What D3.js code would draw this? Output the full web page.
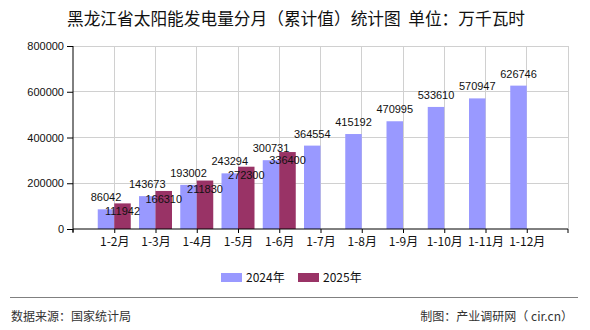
<!DOCTYPE html>
<html><head><meta charset="utf-8">
<script src="https://cdn.jsdelivr.net/npm/d3@7/dist/d3.min.js"></script>
<style>
body{margin:0;background:#fff;}
svg{display:block;}
text{font-family:"Liberation Sans","Noto Sans CJK SC",sans-serif;}
.cjk{font-family:"Noto Sans CJK SC","Liberation Sans",sans-serif;}
</style></head>
<body>
<svg id="c" width="590" height="330"></svg>
<script>
const categories = ["1-2月","1-3月","1-4月","1-5月","1-6月","1-7月","1-8月","1-9月","1-10月","1-11月","1-12月"];
const values2024 = [86042,143673,193002,243294,300731,364554,415192,470995,533610,570947,626746];
const values2025 = [111942,166310,211830,272300,336400];
const seriesNames = ["2024年","2025年"];
const yTicks = [0,200000,400000,600000,800000];
const colors = ["#9999ff","#993366"];

(function(){
const svg = d3.select("#c");
const pL = 73, pR = 568, pT = 46, pB = 229;
const x = d3.scalePoint().domain(categories).range([pL, pR]).padding(1);
const y = d3.scaleLinear().domain([0, 800000]).range([pB, pT]);
const bw = 16.5;

// title
svg.append("text").attr("class","cjk").attr("x",296).attr("y",25)
  .attr("text-anchor","middle").attr("font-size",16.7).attr("fill","#111")
  .attr("xml:space","preserve")
  .text("黑龙江省太阳能发电量分月（累计值）统计图  单位：万千瓦时");

// grid
const g = svg.append("g");
g.selectAll(".hg").data(yTicks.slice(1)).join("line")
  .attr("x1",pL).attr("x2",pR).attr("y1",d=>y(d)).attr("y2",d=>y(d))
  .attr("stroke","#d0d0d0").attr("stroke-width",1).attr("shape-rendering","crispEdges");
g.selectAll(".vg").data(categories).join("line")
  .attr("x1",d=>x(d)).attr("x2",d=>x(d)).attr("y1",pT).attr("y2",pB)
  .attr("stroke","#d0d0d0").attr("stroke-width",1).attr("shape-rendering","crispEdges");
g.append("line").attr("x1",pR).attr("x2",pR).attr("y1",pT).attr("y2",pB)
  .attr("stroke","#d0d0d0").attr("shape-rendering","crispEdges");

// bars
const bars = svg.append("g");
bars.selectAll(".b1").data(values2024).join("rect")
  .attr("x",(d,i)=>x(categories[i])-bw).attr("width",bw)
  .attr("y",d=>y(d)).attr("height",d=>y(0)-y(d)).attr("fill",colors[0]);
bars.selectAll(".b2").data(values2025).join("rect")
  .attr("x",(d,i)=>x(categories[i])).attr("width",bw)
  .attr("y",d=>y(d)).attr("height",d=>y(0)-y(d)).attr("fill",colors[1]);

// axes
const yAxis = d3.axisLeft(y).tickValues(yTicks).tickSize(6).tickPadding(3).tickFormat(d3.format("d"));
const ya = svg.append("g").attr("transform",`translate(${pL},0)`).call(yAxis);
ya.select(".domain").attr("stroke","#000").attr("d",`M0,${pB+3}V${pT}`);
ya.selectAll(".tick line").attr("stroke","#000");
ya.selectAll(".tick text").attr("font-size",11).attr("fill","#111")
  .style("font-family","'Liberation Sans',sans-serif");

const xAxis = d3.axisBottom(x).tickSize(4).tickPadding(4).tickSizeOuter(4);
const xa = svg.append("g").attr("transform",`translate(0,${pB})`).call(xAxis);
xa.select(".domain").attr("stroke","#000").attr("d",`M${pL},4V0H${pR}V4`);
xa.selectAll(".tick line").attr("stroke","#000");
xa.selectAll(".tick text").attr("class","cjk").attr("font-size",12).attr("fill","#111");

// labels
const lab = svg.append("g").attr("font-size",11).attr("fill","#111").attr("text-anchor","middle");
lab.selectAll(".l1").data(values2024).join("text")
  .attr("x",(d,i)=>x(categories[i])-bw/2).attr("y",d=>y(d)-8).text(d=>d);
lab.selectAll(".l2").data(values2025).join("text")
  .attr("x",(d,i)=>x(categories[i])+bw/2).attr("y",d=>y(d)+12).text(d=>d);

// legend
const leg = svg.append("g");
const legX = [221, 298];
seriesNames.forEach((n,i)=>{
  leg.append("rect").attr("x",legX[i]).attr("y",273).attr("width",21).attr("height",9).attr("fill",colors[i]);
  leg.append("text").attr("class","cjk").attr("x",legX[i]+25).attr("y",281.5).attr("font-size",12).attr("fill","#111").text(n);
});

// footer
svg.append("line").attr("x1",10).attr("x2",578).attr("y1",297.5).attr("y2",297.5)
  .attr("stroke","#808080").attr("stroke-width",1.2);
svg.append("text").attr("class","cjk").attr("x",11).attr("y",321).attr("font-size",12).attr("fill","#333").text("数据来源：国家统计局");
svg.append("text").attr("class","cjk").attr("x",573).attr("y",321).attr("text-anchor","end").attr("font-size",12).attr("fill","#333")
  .attr("xml:space","preserve").text("制图：产业调研网（ cir.cn）");
})();
</script>
</body></html>
